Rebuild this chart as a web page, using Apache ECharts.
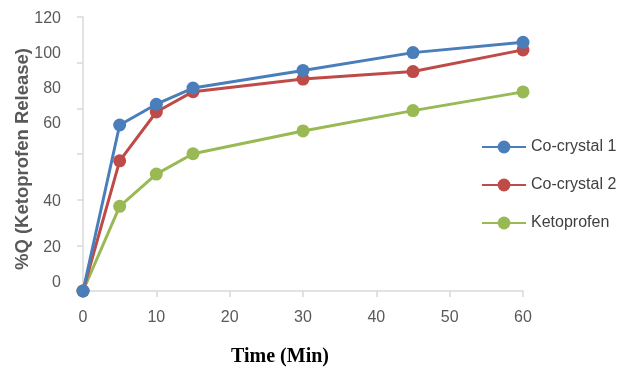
<!DOCTYPE html>
<html>
<head>
<meta charset="utf-8">
<script src="https://cdn.jsdelivr.net/npm/echarts@6/dist/echarts.min.js"></script>
<style>html,body{margin:0;padding:0;background:#fff}#c{width:627px;height:372px}</style>
</head>
<body>
<div id="c"></div>
<script>
var times = [0, 5, 10, 15, 30, 45, 60];
var cocrystal1 = [0, 72.7, 81.8, 88.9, 96.6, 104.4, 108.9];
var cocrystal2 = [0, 57.0, 78.4, 87.3, 92.8, 96.1, 105.6];
var ketoprofen = [0, 37.1, 51.2, 60.1, 70.1, 79.0, 87.2];
var seriesNames = ['Co-crystal 1', 'Co-crystal 2', 'Ketoprofen'];
var yTicks = [0, 20, 40, 60, 80, 100, 120];
var xTicks = [0, 10, 20, 30, 40, 50, 60];

var colors = ['#4A7EBB', '#BE4B48', '#98B954'];
function pairs(v) { return times.map(function (t, i) { return [t, v[i]]; }); }
var allValues = [cocrystal1, cocrystal2, ketoprofen];

// label vertical shifts as they appear in the reference
var labelShift = { 0: 'u10', 100: 'u11', 80: 'u22', 60: 'u32' };
var baseLbl = { fontSize: 16, color: '#595959', fontFamily: 'Liberation Sans, Arial, sans-serif' };
function rs(p) { return Object.assign({ padding: [4, 0, p, 0] }, baseLbl); }

var chart = echarts.init(document.getElementById('c'), null, { renderer: 'canvas' });
chart.setOption({
  animation: false,
  color: colors,
  grid: { left: 83, right: 104, top: 17, bottom: 79, containLabel: false },
  legend: {
    orient: 'vertical',
    left: 476, top: 134,
    itemWidth: 44, itemHeight: 16, itemGap: 22,
    data: seriesNames,
    textStyle: { fontSize: 16, color: '#404040', fontFamily: 'Liberation Sans, Arial, sans-serif' }
  },
  xAxis: {
    type: 'value', min: 0, max: 60, interval: 10,
    name: 'Time (Min)', nameLocation: 'middle', nameGap: 56, nameMoveOverlap: false,
    nameTextStyle: { fontFamily: 'Liberation Serif, Times New Roman, serif', fontWeight: 'bold', fontSize: 20, color: '#000', padding: [0, 46, 0, 0] },
    axisLine: { show: true, lineStyle: { color: '#D9D9D9', width: 1.5 } },
    axisTick: { show: true, length: 6, lineStyle: { color: '#D9D9D9', width: 1.5 } },
    axisLabel: Object.assign({ margin: 19, formatter: function (v) { return xTicks.indexOf(v) >= 0 ? String(v) : ''; } }, baseLbl),
    splitLine: { show: false }
  },
  yAxis: {
    type: 'value', min: 0, max: 120, interval: 20,
    name: '%Q (Ketoprofen Release)', nameLocation: 'middle', nameGap: 51, nameRotate: 90, nameMoveOverlap: false,
    nameTextStyle: { fontFamily: 'Liberation Sans, Arial, sans-serif', fontWeight: 'bold', fontSize: 18.5, color: '#595959', padding: [0, 10, 0, 0] },
    axisLine: { show: true, lineStyle: { color: '#D9D9D9', width: 1.5 } },
    axisTick: { show: true, length: 6, lineStyle: { color: '#D9D9D9', width: 1.5 } },
    axisLabel: Object.assign({
      margin: 22,
      formatter: function (v) {
        if (yTicks.indexOf(v) < 0) return '';
        var k = labelShift[v] || 'u0';
        return '{' + k + '|' + v + '}';
      },
      rich: { u0: rs(0), u10: rs(21), u11: rs(22), u22: rs(44), u32: rs(64) }
    }, baseLbl),
    splitLine: { show: false }
  },
  series: seriesNames.map(function (n, i) {
    return {
      name: n, type: 'line', data: pairs(allValues[i]),
      symbol: 'circle', symbolSize: 13,
      lineStyle: { width: 3, color: colors[i] },
      itemStyle: { color: colors[i] },
      z: 3 - i
    };
  }).reverse()
});
</script>
</body>
</html>
